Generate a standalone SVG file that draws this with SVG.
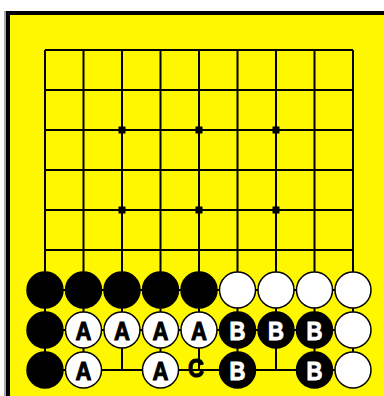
<svg xmlns="http://www.w3.org/2000/svg" width="384" height="396" viewBox="0 0 384 396">
<style>
.grid line{stroke:#000;stroke-width:2}
.star{fill:#000}
.b{fill:#000;stroke:#000;stroke-width:1.5}
.w{fill:#fff;stroke:#000;stroke-width:1.5}
.lbl{font-family:"Liberation Sans",Arial,sans-serif;font-weight:bold;font-size:26px;text-anchor:middle;stroke-width:1}
.lw{fill:#000;stroke:#000}
.lb{fill:#fff;stroke:#fff}
</style>
<rect x="0" y="0" width="384" height="396" fill="#fff"/>
<rect x="4" y="11" width="2" height="385" fill="#aaa"/>
<rect x="6" y="11" width="378" height="385" fill="#000"/>
<rect x="10" y="15" width="374" height="381" fill="#fff700"/>
<g id="grid" class="grid">
<line x1="45" y1="50" x2="353" y2="50"/>
<line x1="45" y1="90" x2="353" y2="90"/>
<line x1="45" y1="130" x2="353" y2="130"/>
<line x1="45" y1="170" x2="353" y2="170"/>
<line x1="45" y1="210" x2="353" y2="210"/>
<line x1="45" y1="250" x2="353" y2="250"/>
<line x1="45" y1="290" x2="353" y2="290"/>
<line x1="45" y1="330" x2="353" y2="330"/>
<line x1="45" y1="370" x2="353" y2="370"/>
<line x1="45" y1="50" x2="45" y2="370"/>
<line x1="83.5" y1="50" x2="83.5" y2="370"/>
<line x1="122" y1="50" x2="122" y2="370"/>
<line x1="160.5" y1="50" x2="160.5" y2="370"/>
<line x1="199" y1="50" x2="199" y2="370"/>
<line x1="237.5" y1="50" x2="237.5" y2="370"/>
<line x1="276" y1="50" x2="276" y2="370"/>
<line x1="314.5" y1="50" x2="314.5" y2="370"/>
<line x1="353" y1="50" x2="353" y2="370"/>
</g>
<g id="stars" class="star">
<rect x="118.5" y="126.5" width="7" height="7"/>
<rect x="195.5" y="126.5" width="7" height="7"/>
<rect x="272.5" y="126.5" width="7" height="7"/>
<rect x="118.5" y="206.5" width="7" height="7"/>
<rect x="195.5" y="206.5" width="7" height="7"/>
<rect x="272.5" y="206.5" width="7" height="7"/>
</g>
<g id="row7">
<g id="s70"><circle class="b" cx="45" cy="290" r="18"/></g>
<g id="s71"><circle class="b" cx="83.5" cy="290" r="18"/></g>
<g id="s72"><circle class="b" cx="122" cy="290" r="18"/></g>
<g id="s73"><circle class="b" cx="160.5" cy="290" r="18"/></g>
<g id="s74"><circle class="b" cx="199" cy="290" r="18"/></g>
<g id="s75"><circle class="w" cx="237.5" cy="290" r="18"/></g>
<g id="s76"><circle class="w" cx="276" cy="290" r="18"/></g>
<g id="s77"><circle class="w" cx="314.5" cy="290" r="18"/></g>
<g id="s78"><circle class="w" cx="353" cy="290" r="18"/></g>
</g>
<g id="row8">
<g id="s80"><circle class="b" cx="45" cy="330" r="18"/></g>
<g id="s81"><circle class="w" cx="83.5" cy="330" r="18"/><text class="lbl lw" transform="translate(83.5,340) scale(0.85,1)">A</text></g>
<g id="s82"><circle class="w" cx="122" cy="330" r="18"/><text class="lbl lw" transform="translate(122,340) scale(0.85,1)">A</text></g>
<g id="s83"><circle class="w" cx="160.5" cy="330" r="18"/><text class="lbl lw" transform="translate(160.5,340) scale(0.85,1)">A</text></g>
<g id="s84"><circle class="w" cx="199" cy="330" r="18"/><text class="lbl lw" transform="translate(199,340) scale(0.85,1)">A</text></g>
<g id="s85"><circle class="b" cx="237.5" cy="330" r="18"/><text class="lbl lb" transform="translate(237.5,340) scale(0.85,1)">B</text></g>
<g id="s86"><circle class="b" cx="276" cy="330" r="18"/><text class="lbl lb" transform="translate(276,340) scale(0.85,1)">B</text></g>
<g id="s87"><circle class="b" cx="314.5" cy="330" r="18"/><text class="lbl lb" transform="translate(314.5,340) scale(0.85,1)">B</text></g>
<g id="s88"><circle class="w" cx="353" cy="330" r="18"/></g>
</g>
<g id="row9">
<g id="s90"><circle class="b" cx="45" cy="370" r="18"/></g>
<g id="s91"><circle class="w" cx="83.5" cy="370" r="18"/><text class="lbl lw" transform="translate(83.5,380) scale(0.85,1)">A</text></g>
<g id="s93"><circle class="w" cx="160.5" cy="370" r="18"/><text class="lbl lw" transform="translate(160.5,380) scale(0.85,1)">A</text></g>
<g id="p94"><text class="lbl lw" transform="translate(196,377) scale(0.85,1)">C</text></g>
<g id="s95"><circle class="b" cx="237.5" cy="370" r="18"/><text class="lbl lb" transform="translate(237.5,380) scale(0.85,1)">B</text></g>
<g id="s97"><circle class="b" cx="314.5" cy="370" r="18"/><text class="lbl lb" transform="translate(314.5,380) scale(0.85,1)">B</text></g>
<g id="s98"><circle class="w" cx="353" cy="370" r="18"/></g>
</g>
</svg>
